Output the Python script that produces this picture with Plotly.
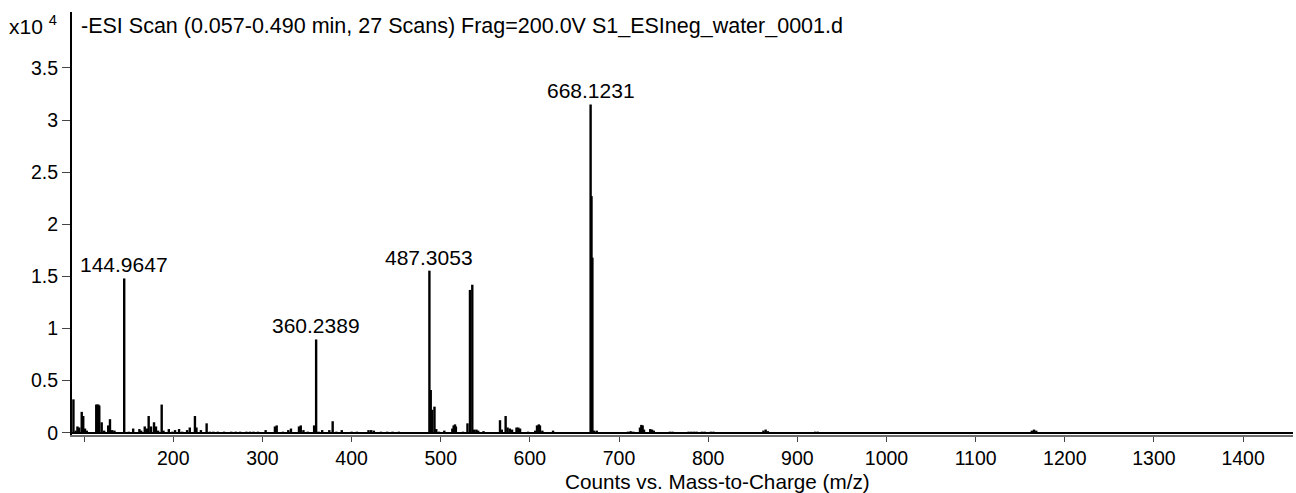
import plotly.graph_objects as go

# Centroid list: m/z and abundance (counts x10^4)
mz = [
    88.0, 90.5, 92.5, 94.5, 97.3, 99.0, 101.0, 103.0,
    113.6, 114.8, 116.0, 117.0, 119.7, 122.5, 127.0, 129.0, 131.5, 134.0,
    144.9647, 150.0, 155.0, 162.0, 164.0, 168.0, 170.5, 172.4, 175.0, 178.4, 180.6, 183.0,
    187.0, 189.0, 195.0, 199.0, 202.0, 206.5, 210.0, 215.5, 218.5, 224.3, 226.0, 231.0,
    237.4, 241.0, 245.0, 250.0, 257.0, 265.0, 270.0, 275.0, 282.0, 286.0, 290.0, 295.0,
    303.6, 314.0, 316.0, 323.0, 329.0, 332.0, 341.0, 343.0, 346.0, 351.0, 358.0,
    360.2389, 363.0, 367.0, 375.0, 378.8, 383.0, 389.0, 400.0, 406.0, 419.0, 422.0, 425.0,
    433.0, 440.0, 446.0, 453.0, 487.3053, 488.8, 490.5, 493.0, 495.0, 498.0, 504.0,
    513.0, 514.5, 516.0, 517.0, 525.0, 530.0, 532.8, 535.4, 537.5, 540.0, 542.0, 548.0,
    566.5, 568.5, 572.8, 575.0, 577.5, 580.0, 585.0, 587.0, 589.0, 598.0, 606.0, 608.0,
    610.0, 611.3, 614.0, 626.0, 668.1231, 669.12, 670.12, 672.0, 675.0, 710.0, 713.0,
    716.0, 723.5, 725.0, 726.5, 728.0, 735.0, 737.0, 739.0, 757.0, 760.0, 778.0, 781.0,
    784.0, 787.0, 793.0, 796.0, 803.0, 806.0, 862.0, 864.5, 867.0, 920.0, 923.0, 1010.0,
    1163.0, 1165.5, 1168.0,
]
abundance = [
    0.32, 0.02, 0.06, 0.05, 0.20, 0.16, 0.04, 0.02,
    0.27, 0.27, 0.27, 0.26, 0.10, 0.02, 0.07, 0.13, 0.025, 0.02,
    1.48, 0.01, 0.04, 0.035, 0.02, 0.06, 0.04, 0.16, 0.06, 0.10, 0.06, 0.02,
    0.27, 0.02, 0.035, 0.01, 0.025, 0.035, 0.01, 0.025, 0.05, 0.16, 0.05, 0.025,
    0.09, 0.01, 0.01, 0.01, 0.01, 0.01, 0.01, 0.01, 0.01, 0.01, 0.01, 0.01,
    0.025, 0.06, 0.07, 0.01, 0.025, 0.04, 0.06, 0.07, 0.025, 0.01, 0.07,
    0.895, 0.01, 0.025, 0.025, 0.11, 0.01, 0.025, 0.01, 0.01, 0.025, 0.025, 0.02,
    0.01, 0.01, 0.01, 0.01, 1.555, 0.41, 0.22, 0.25, 0.035, 0.01, 0.02,
    0.04, 0.07, 0.08, 0.06, 0.01, 0.09, 1.37, 1.42, 0.03, 0.03, 0.02, 0.015,
    0.12, 0.03, 0.16, 0.05, 0.04, 0.03, 0.05, 0.05, 0.04, 0.01, 0.02, 0.07,
    0.08, 0.07, 0.02, 0.02, 3.15, 2.27, 1.68, 0.02, 0.02, 0.01, 0.015,
    0.01, 0.05, 0.075, 0.07, 0.03, 0.035, 0.03, 0.02, 0.01, 0.01, 0.01, 0.01,
    0.01, 0.01, 0.01, 0.01, 0.01, 0.01, 0.02, 0.03, 0.015, 0.01, 0.01, 0.005,
    0.02, 0.03, 0.02,
]

# Annotated base peaks
labelled_mz = [144.9647, 360.2389, 487.3053, 668.1231]

title_text = "-ESI Scan (0.057-0.490 min, 27 Scans) Frag=200.0V S1_ESIneg_water_0001.d"
x_title = "Counts vs. Mass-to-Charge (m/z)"
x_ticks = [100, 200, 300, 400, 500, 600, 700, 800, 900, 1000, 1100, 1200, 1300, 1400]
x_tick_text = [""] + [str(v) for v in x_ticks[1:]]
y_ticks = [0, 0.5, 1, 1.5, 2, 2.5, 3, 3.5]

FONT = "Liberation Sans, Arial, sans-serif"
TICK_SIZE = 19.5
TEXT_SIZE = 21

# Plot area in pixels (used to place paper-referenced text)
L, R, T, B = 72, 3, 12, 58
W, H = 1296, 493
PW, PH = W - L - R, H - T - B

def px_to_paper(xp, yp):
    return (xp - L) / PW, (H - B - yp) / PH

# Build stick segments (one vertical line per centroid)
sx, sy = [], []
for m, a in zip(mz, abundance):
    sx += [m, m, None]
    sy += [0, a, None]

fig = go.Figure()
fig.add_trace(go.Scatter(
    x=sx, y=sy, mode="lines",
    line=dict(color="black", width=2.4),
    hoverinfo="skip", showlegend=False,
))

annotations = []
lookup = dict(zip(mz, abundance))
for m in labelled_mz:
    annotations.append(dict(
        x=m, y=lookup[m], xref="x", yref="y",
        text=f"{m:.4f}", showarrow=False,
        xanchor="center", yanchor="bottom", yshift=0,
        font=dict(family=FONT, size=TEXT_SIZE, color="black"),
    ))

tx, ty = px_to_paper(79, 26)
annotations.append(dict(
    x=tx, y=ty, xref="paper", yref="paper",
    text=title_text, showarrow=False, xanchor="left", yanchor="middle",
    font=dict(family=FONT, size=21.5, color="black"),
))
ex, ey = px_to_paper(59, 25)
annotations.append(dict(
    x=ex, y=ey, xref="paper", yref="paper",
    text="x10 <sup>4</sup>", showarrow=False, xanchor="right", yanchor="middle",
    font=dict(family=FONT, size=TEXT_SIZE, color="black"),
))
ax_x, ax_y = px_to_paper(717, 481)
annotations.append(dict(
    x=ax_x, y=ax_y, xref="paper", yref="paper",
    text=x_title, showarrow=False, xanchor="center", yanchor="middle",
    font=dict(family=FONT, size=TEXT_SIZE - 0.3, color="black"),
))

fig.update_layout(
    width=W, height=H,
    margin=dict(l=L, r=R, t=T, b=B),
    paper_bgcolor="white", plot_bgcolor="white",
    font=dict(family=FONT, size=TICK_SIZE, color="black"),
    annotations=annotations,
    xaxis=dict(
        range=[86.4, 1456], tickmode="array", tickvals=x_ticks, ticktext=x_tick_text,
        showgrid=False, zeroline=False,
        showline=True, linecolor="#6e6e6e", linewidth=2,
        ticks="outside", ticklen=5, tickwidth=1, tickcolor="#444",
        tickfont=dict(family=FONT, size=TICK_SIZE, color="black"),
    ),
    yaxis=dict(
        range=[-0.022, 4.037], tickmode="array", tickvals=y_ticks,
        showgrid=False, zeroline=True, zerolinecolor="black", zerolinewidth=2,
        showline=True, linecolor="black", linewidth=2,
        ticks="outside", ticklen=8, tickwidth=1, tickcolor="#444",
        tickfont=dict(family=FONT, size=TICK_SIZE, color="black"),
    ),
)

fig.write_html("out.html")
